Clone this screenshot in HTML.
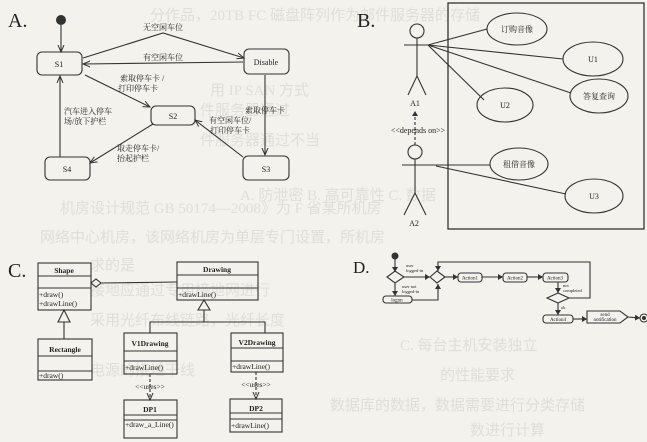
<!DOCTYPE html>
<html><head><meta charset="utf-8"><style>
html,body{margin:0;padding:0;background:#f3f2ec;}
svg{display:block;font-family:"Liberation Serif","Noto Serif CJK SC",serif;}
.bg{fill:#dfded8;font-size:15px;font-family:"Liberation Serif","Noto Sans CJK SC",sans-serif;}
</style></head><body>
<svg width="647" height="442" viewBox="0 0 647 442" xmlns="http://www.w3.org/2000/svg">
<defs>
<marker id="a" markerWidth="8" markerHeight="8" refX="7" refY="4" orient="auto" markerUnits="userSpaceOnUse"><path d="M0,1 L7,4 L0,7" fill="none" stroke="#333" stroke-width="1"/></marker>
<marker id="af" markerWidth="6" markerHeight="6" refX="5" refY="3" orient="auto" markerUnits="userSpaceOnUse"><path d="M0,0 L5,3 L0,6z" fill="#333"/></marker>
</defs>
<rect width="647" height="442" fill="#f3f2ec"/>
<g class="bg">
<text x="150" y="20">分作品，20TB FC 磁盘阵列作为邮件服务器的存储</text>
<text x="210" y="95">用 IP SAN 方式</text>
<text x="200" y="115">件服务器通过</text>
<text x="200" y="145">件服务器通过不当</text>
<text x="240" y="200">A. 防泄密  B. 高可靠性  C. 数据</text>
<text x="60" y="213">机房设计规范 GB 50174—2008》为 F 省某所机房</text>
<text x="40" y="242">网络中心机房，该网络机房为单层专门设置，所机房</text>
<text x="90" y="270">求的是</text>
<text x="90" y="295">接地应通过专用接地网进行</text>
<text x="90" y="325">采用光纤布线链路，光纤长度</text>
<text x="90" y="375">电源的接地干线</text>
<text x="400" y="350">C. 每台主机安装独立</text>
<text x="440" y="380">的性能要求</text>
<text x="330" y="410">数据库的数据，数据需要进行分类存储</text>
<text x="470" y="435">数进行计算</text>
</g>

<g stroke="#333" stroke-width="1.1" fill="none">
<rect x="37" y="52" width="45" height="23" rx="5"/>
<rect x="244" y="49" width="45" height="25" rx="5"/>
<rect x="151" y="106" width="44" height="19" rx="5"/>
<rect x="45" y="157" width="45" height="23" rx="5"/>
<rect x="243" y="156" width="46" height="24" rx="5"/>
<line x1="61" y1="25" x2="61" y2="52" marker-end="url(#a)"/>
<polyline points="83,58 163,33 244,58" marker-end="url(#a)"/>
<line x1="243" y1="62" x2="83" y2="64" marker-end="url(#a)"/>
<line x1="85" y1="75" x2="150" y2="107" marker-end="url(#a)"/>
<line x1="265" y1="75" x2="265" y2="155" marker-end="url(#a)"/>
<line x1="243" y1="157" x2="195" y2="120" marker-end="url(#a)"/>
<line x1="153" y1="124" x2="90" y2="163" marker-end="url(#a)"/>
<line x1="60" y1="157" x2="60" y2="76" marker-end="url(#a)"/>
<rect x="448" y="3" width="196" height="226" stroke-width="1.3"/>
<circle cx="417" cy="31" r="7"/>
<line x1="417" y1="38" x2="417" y2="76"/><line x1="404" y1="45" x2="430" y2="45"/>
<polyline points="408,95 417,76 426,95"/>
<circle cx="415" cy="152" r="7"/>
<line x1="415" y1="159" x2="415" y2="193"/><line x1="402" y1="165" x2="430" y2="165"/>
<polyline points="404,215 415,193 426,215"/>
<line x1="415" y1="145" x2="415" y2="111" stroke-dasharray="3,2" marker-end="url(#af)"/>
<ellipse cx="517" cy="29" rx="30" ry="16"/>
<ellipse cx="593" cy="59" rx="30" ry="17"/>
<ellipse cx="599" cy="96" rx="29" ry="17"/>
<ellipse cx="505" cy="105" rx="28" ry="17"/>
<ellipse cx="519" cy="164" rx="29" ry="16"/>
<ellipse cx="594" cy="196" rx="29" ry="17"/>
<line x1="428" y1="45" x2="487" y2="29"/>
<line x1="428" y1="45" x2="563" y2="59"/>
<line x1="428" y1="45" x2="571" y2="93"/>
<line x1="428" y1="45" x2="484" y2="100"/>
<line x1="430" y1="165" x2="490" y2="165"/>
<line x1="436" y1="166" x2="566" y2="194"/>
<rect x="38" y="263" width="53" height="47"/><line x1="38" y1="276" x2="91" y2="276"/><line x1="38" y1="288" x2="91" y2="288"/>
<rect x="177" y="262" width="81" height="38"/><line x1="177" y1="275" x2="258" y2="275"/><line x1="177" y1="288" x2="258" y2="288"/>
<path d="M91,283 L96,279 L101,283 L96,287z" fill="#f3f2ec"/>
<line x1="101" y1="283" x2="177" y2="282"/>
<path d="M204,300 L198,310 L210,310z" fill="#f3f2ec"/>
<polyline points="204,310 204,322"/><polyline points="150,333 150,322 265,322 265,333"/>
<path d="M64,310 L58,322 L70,322z" fill="#f3f2ec"/>
<line x1="64" y1="322" x2="64" y2="339"/>
<rect x="38" y="339" width="54" height="41"/><line x1="38" y1="356" x2="92" y2="356"/><line x1="38" y1="371" x2="92" y2="371"/>
<rect x="124" y="333" width="53" height="41"/><line x1="124" y1="351" x2="177" y2="351"/><line x1="124" y1="361" x2="177" y2="361"/>
<rect x="231" y="333" width="52" height="39"/><line x1="231" y1="348" x2="283" y2="348"/><line x1="231" y1="361" x2="283" y2="361"/>
<line x1="150" y1="374" x2="150" y2="400" stroke-dasharray="3,2" marker-end="url(#a)"/>
<line x1="256" y1="372" x2="256" y2="399" stroke-dasharray="3,2" marker-end="url(#a)"/>
<rect x="124" y="400" width="53" height="38"/><line x1="124" y1="415" x2="177" y2="415"/><line x1="124" y1="420" x2="177" y2="420"/>
<rect x="230" y="399" width="52" height="33"/><line x1="230" y1="413" x2="282" y2="413"/><line x1="230" y1="419" x2="282" y2="419"/>
<line x1="395" y1="259" x2="395" y2="272" marker-end="url(#af)"/>
<path d="M387,277 L395,271 L404,277 L395,283z"/>
<path d="M430,277 L437,271 L445,277 L437,283z"/>
<line x1="404" y1="277" x2="430" y2="277" marker-end="url(#af)"/>
<line x1="395" y1="283" x2="395" y2="296" marker-end="url(#af)"/>
<rect x="383" y="296" width="29" height="7" rx="3"/>
<polyline points="412,300 438,300 438,284" marker-end="url(#af)"/>
<line x1="445" y1="277" x2="458" y2="277" marker-end="url(#af)"/>
<rect x="458" y="273" width="24" height="9" rx="3"/>
<line x1="482" y1="277" x2="503" y2="277" marker-end="url(#af)"/>
<rect x="503" y="273" width="24" height="9" rx="3"/>
<line x1="527" y1="277" x2="543" y2="277" marker-end="url(#af)"/>
<rect x="543" y="273" width="25" height="9" rx="3"/>
<line x1="558" y1="282" x2="558" y2="293" marker-end="url(#af)"/>
<path d="M547,298 L558,293 L569,298 L558,303z"/>
<polyline points="569,298 590,298 590,262 438,262 438,271" marker-end="url(#af)"/>
<line x1="558" y1="303" x2="558" y2="315" marker-end="url(#af)"/>
<rect x="543" y="315" width="30" height="8" rx="3"/>
<line x1="573" y1="319" x2="587" y2="319" marker-end="url(#af)"/>
<path d="M587,311 L620,311 L628,317 L620,323 L587,323z"/>
<line x1="628" y1="317" x2="640" y2="318" marker-end="url(#af)"/>
<circle cx="644" cy="318" r="4"/>
</g>
<g fill="#333">
<circle cx="61" cy="20" r="5"/>
<circle cx="395" cy="256" r="3.5"/>
<circle cx="644" cy="318" r="2"/>
</g>

<g fill="#222" font-size="9">
<text x="8" y="27" font-size="20">A.</text>
<text x="357" y="27" font-size="20">B.</text>
<text x="8" y="277" font-size="20">C.</text>
<text x="353" y="273" font-size="17">D.</text>
<g text-anchor="middle" font-size="8">
<text x="59" y="67">S1</text><text x="266" y="65">Disable</text><text x="173" y="119">S2</text>
<text x="67" y="172">S4</text><text x="266" y="172">S3</text>
<text x="163" y="30">无空闲车位</text><text x="163" y="60">有空闲车位</text>
<text x="265" y="113">索取停车卡</text>
</g>
<g font-size="8">
<text x="120" y="81">索取停车卡 /</text><text x="118" y="91">打印停车卡</text>
<text x="209" y="123">有空闲车位/</text><text x="210" y="133">打印停车卡</text>
<text x="117" y="151">取走停车卡/</text><text x="117" y="161">抬起护栏</text>
<text x="64" y="114">汽车进入停车</text><text x="64" y="124">场/放下护栏</text>
</g>
<g text-anchor="middle" font-size="8">
<text x="517" y="32">订购音像</text><text x="593" y="62">U1</text><text x="599" y="99">答复查询</text>
<text x="505" y="108">U2</text><text x="519" y="167">租借音像</text><text x="594" y="199">U3</text>
<text x="415" y="106">A1</text><text x="414" y="226">A2</text>
<text x="418" y="133">&lt;&lt;depends on&gt;&gt;</text>
</g>
<g text-anchor="middle" font-size="7.5">
<text x="64" y="273" font-weight="bold">Shape</text>
<text x="217" y="272" font-weight="bold">Drawing</text>
<text x="65" y="352" font-weight="bold">Rectangle</text>
<text x="150" y="346" font-weight="bold">V1Drawing</text>
<text x="257" y="345" font-weight="bold">V2Drawing</text>
<text x="150" y="412" font-weight="bold">DP1</text>
<text x="256" y="411" font-weight="bold">DP2</text>
<text x="150" y="389">&lt;&lt;uses&gt;&gt;</text>
<text x="256" y="387">&lt;&lt;uses&gt;&gt;</text>
</g>
<g font-size="7.5">
<text x="39" y="297">+draw()</text><text x="39" y="306">+drawLine()</text>
<text x="178" y="297">+drawLine()</text>
<text x="39" y="378">+draw()</text>
<text x="125" y="370">+drawLine()</text>
<text x="232" y="369">+drawLine()</text>
<text x="125" y="427">+draw_a_Line()</text>
<text x="231" y="428">+drawLine()</text>
</g>
<g font-size="4.5">
<text x="406" y="267">user</text><text x="406" y="272">logged-in</text>
<text x="402" y="288">user not</text><text x="402" y="293">logged-in</text>
<text x="563" y="287">not</text><text x="563" y="292">completed</text>
<text x="561" y="309">ok</text>
</g>
<g font-size="5" text-anchor="middle">
<text x="397" y="301.5">logon</text>
<text x="470" y="279.5">Action1</text><text x="515" y="279.5">Action2</text>
<text x="555" y="279.5">Action3</text><text x="558" y="321">Action4</text>
<text x="605" y="316">send</text><text x="605" y="321">notification</text>
</g>
</g>
</svg>
</body></html>
